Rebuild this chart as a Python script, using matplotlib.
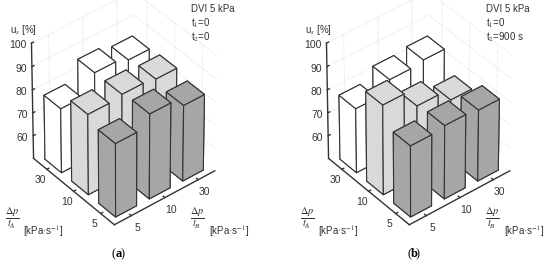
import matplotlib
matplotlib.use('Agg')
import matplotlib.pyplot as plt
import numpy as np

plt.rcParams['font.family'] = ['Liberation Sans', 'DejaVu Sans']
plt.rcParams['mathtext.fontset'] = 'stix'

rate_labels = ['5', '10', '30']
z_ticks = [60, 70, 80, 90, 100]
# rows = tA (5, 10, 30), columns = tB (5, 10, 30)
us_a = [[82, 87, 83],
        [85, 86, 85],
        [78, 86, 84]]
us_b = [[81, 82, 81],
        [89, 81, 76],
        [78, 83, 84]]
row_colors = ['#a6a6a6', '#d9d9d9', '#ffffff']
edge = '#333333'
panels = [(us_a, 't$_2$=0', 'a', 0.0), (us_b, 't$_2$=900 s', 'b', 295 / 550)]

fig = plt.figure(figsize=(5.5, 2.64), dpi=100)

for us, t2, tag, x0 in panels:
    ax = fig.add_axes([x0 - 0.031, 0.079, 0.5, 1.0], projection='3d', proj_type='persp', focal_length=3)
    ax.set_axis_off()
    ax.computed_zorder = False
    ax.view_init(elev=40, azim=-129)
    ax.set_xlim(-0.5, 2.5)
    ax.set_ylim(-0.5, 2.5)
    ax.set_zlim(50, 100)
    ax.set_box_aspect((1, 1, 1.155), zoom=0.875)
    ax.patch.set_alpha(0)

    # walls
    for z in z_ticks:
        ax.plot([-0.5, 2.5], [2.5, 2.5], [z, z], color='#cccccc', lw=0.5, ls=':', zorder=1)
        ax.plot([2.5, 2.5], [-0.5, 2.5], [z, z], color='#cccccc', lw=0.5, ls=':', zorder=1)
    for t in range(3):
        ax.plot([t, t], [2.5, 2.5], [50, 100], color='#cccccc', lw=0.5, ls=':', zorder=1)
        ax.plot([2.5, 2.5], [t, t], [50, 100], color='#cccccc', lw=0.5, ls=':', zorder=1)

    # axes
    ax.plot([-0.5, 2.5], [-0.5, -0.5], [50, 50], color=edge, lw=1, zorder=2)
    ax.plot([-0.5, -0.5], [-0.5, 2.5], [50, 50], color=edge, lw=1, zorder=2)
    ax.plot([-0.5, -0.5], [2.5, 2.5], [50, 100], color=edge, lw=1, zorder=2)
    for z in z_ticks:
        ax.plot([-0.5, -0.44], [2.5, 2.5], [z, z], color=edge, lw=1, zorder=2)
        ax.text(-0.56, 2.62, z - 1.5, str(z), fontsize=7.5, color='#333333', ha='right', va='center')
    ax.text(-0.6, 2.68, 104.5, 'u$_s$ [%]', fontsize=7, color='#333333', ha='center', va='center')
    for i, lab in enumerate(rate_labels):
        ax.plot([i, i], [-0.5, -0.44], [50, 50], color=edge, lw=1, zorder=2)
        ax.plot([-0.5, -0.44], [i, i], [50, 50], color=edge, lw=1, zorder=2)
        ax.text(i + 0.05, -0.68, 46, lab, fontsize=7.5, color='#333333', ha='center', va='center')
        ax.text(-0.65, i + 0.05, 46, lab, fontsize=7.5, color='#333333', ha='center', va='center')

    # bars, back to front
    for r in range(2, -1, -1):
        for c in range(2, -1, -1):
            ax.bar3d(c - 0.31, r - 0.31, 50, 0.62, 0.62, us[r][c] - 50, color=row_colors[r],
                     edgecolor=edge, linewidth=0.8, shade=False, zorder=20 - (r + c))

    fig.text(x0 + 191 / 550, 1 - 9 / 264, 'DVI 5 kPa', fontsize=7, color='#333333', va='center')
    fig.text(x0 + 191 / 550, 1 - 23 / 264, 't$_1$=0', fontsize=7, color='#333333', va='center')
    fig.text(x0 + 191 / 550, 1 - 37 / 264, t2, fontsize=7, color='#333333', va='center')
    fig.text(x0 + 12.5 / 550, 1 - 218 / 264, r'$\frac{\Delta p}{t_A}$', fontsize=10.5, ha='center', va='center', color='#333333')
    fig.text(x0 + 23 / 550, 1 - 231 / 264, '[kPa·s$^{-1}$]', fontsize=7, color='#333333', va='center')
    fig.text(x0 + 197 / 550, 1 - 218 / 264, r'$\frac{\Delta p}{t_B}$', fontsize=10.5, ha='center', va='center', color='#333333')
    fig.text(x0 + 209 / 550, 1 - 231 / 264, '[kPa·s$^{-1}$]', fontsize=7, color='#333333', va='center')
    fig.text(x0 + 116 / 550, 1 - 254 / 264, '(', family='Liberation Serif', fontsize=9, ha='right', va='center')
    fig.text(x0 + 116 / 550, 1 - 254 / 264, tag, family='Liberation Serif', fontweight='bold', fontsize=9, ha='left', va='center')
    fig.text(x0 + 121 / 550, 1 - 254 / 264, ')', family='Liberation Serif', fontsize=9, ha='left', va='center')

fig.savefig('out.png', dpi=100)
